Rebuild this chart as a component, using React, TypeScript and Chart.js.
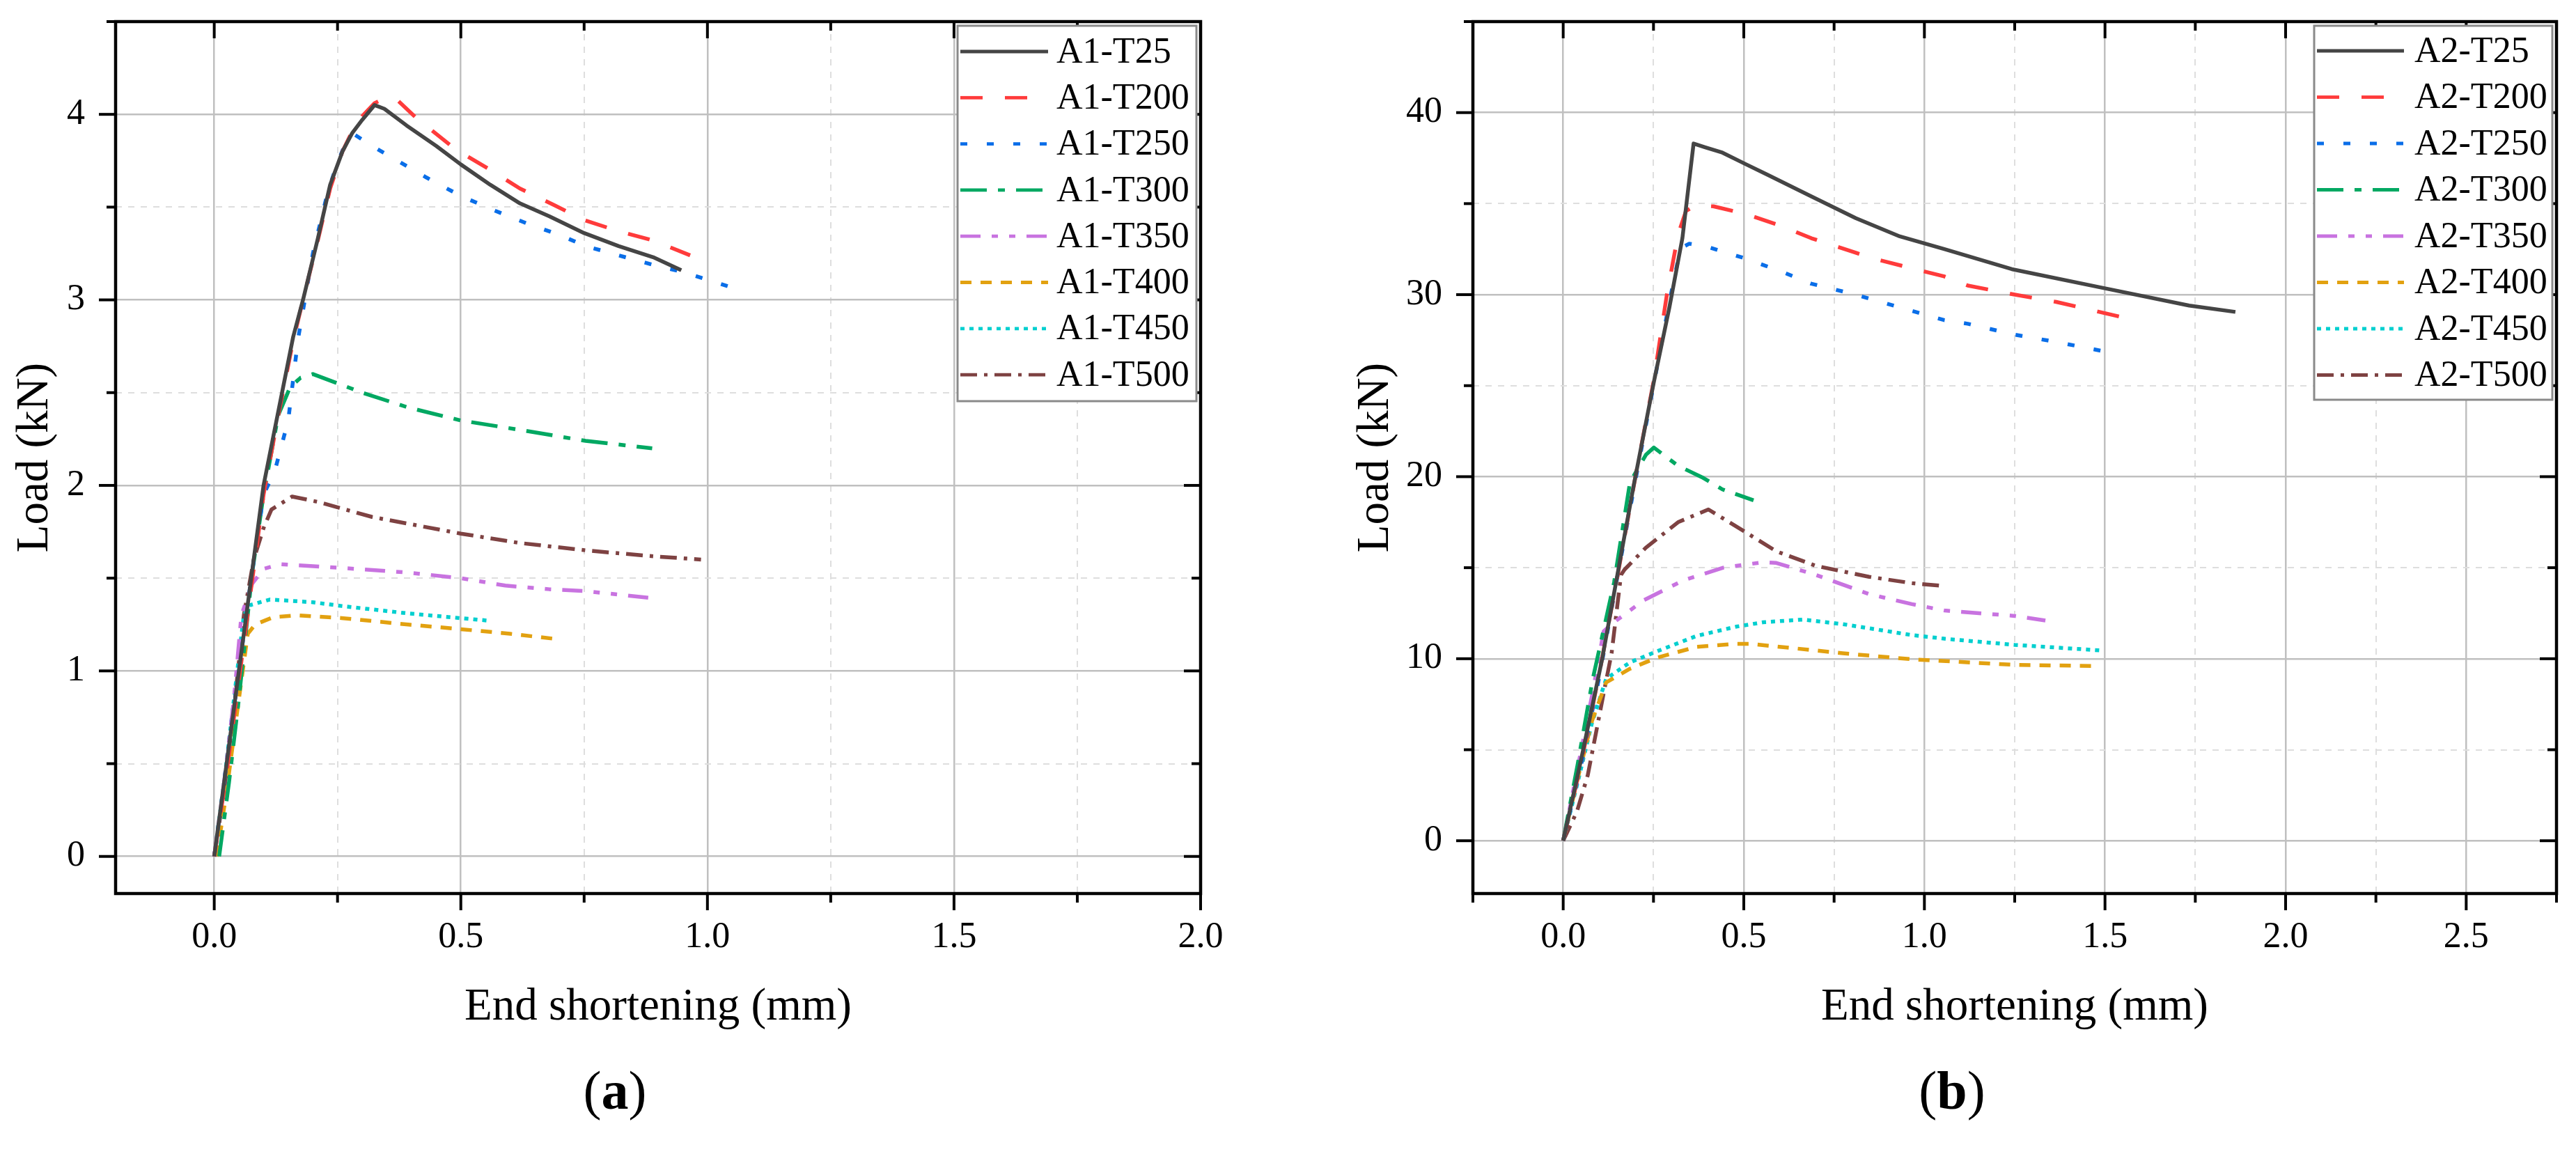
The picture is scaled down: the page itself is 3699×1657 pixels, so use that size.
import React, { useEffect, useRef } from 'react';
import { Chart, registerables } from 'chart.js';

Chart.register(...registerables);

// ---------- panel (a): A1 series ----------
const a1Labels = ['A1-T25', 'A1-T200', 'A1-T250', 'A1-T300', 'A1-T350', 'A1-T400', 'A1-T450', 'A1-T500'];

const a1t25X = [0, 0.025, 0.05, 0.075, 0.1, 0.13, 0.16, 0.18, 0.21, 0.235, 0.26, 0.28, 0.3, 0.325, 0.345, 0.39, 0.45, 0.5, 0.56, 0.62, 0.68, 0.75, 0.82, 0.89, 0.947];
const a1t25Y = [0, 0.5, 1.0, 1.5, 2.0, 2.4, 2.8, 3.0, 3.33, 3.62, 3.8, 3.9, 3.97, 4.05, 4.03, 3.94, 3.83, 3.73, 3.62, 3.52, 3.45, 3.36, 3.29, 3.23, 3.16];

const a1t200X = [0, 0.025, 0.05, 0.075, 0.1, 0.13, 0.16, 0.18, 0.21, 0.235, 0.26, 0.28, 0.3, 0.325, 0.348, 0.37, 0.41, 0.49, 0.56, 0.62, 0.69, 0.75, 0.82, 0.89, 0.965];
const a1t200Y = [0, 0.45, 0.95, 1.45, 1.95, 2.38, 2.78, 3.0, 3.32, 3.6, 3.8, 3.91, 3.99, 4.06, 4.09, 4.08, 3.98, 3.81, 3.7, 3.6, 3.51, 3.43, 3.37, 3.32, 3.24];

const a1t250X = [0, 0.025, 0.05, 0.075, 0.1, 0.123, 0.15, 0.17, 0.2, 0.23, 0.25, 0.267, 0.285, 0.32, 0.365, 0.43, 0.5, 0.57, 0.636, 0.7, 0.753, 0.82, 0.888, 0.95, 1.046];
const a1t250Y = [0, 0.5, 1.0, 1.5, 1.95, 2.08, 2.35, 2.79, 3.25, 3.58, 3.74, 3.85, 3.89, 3.83, 3.76, 3.66, 3.56, 3.48, 3.41, 3.35, 3.29, 3.24, 3.19, 3.15, 3.07];

const a1t300X = [0.01, 0.03, 0.05, 0.077, 0.1, 0.13, 0.154, 0.175, 0.2, 0.23, 0.3, 0.393, 0.5, 0.618, 0.753, 0.888];
const a1t300Y = [0, 0.4, 0.85, 1.53, 1.95, 2.38, 2.53, 2.58, 2.6, 2.57, 2.5, 2.42, 2.35, 2.3, 2.24, 2.2];

const a1t350X = [0, 0.02, 0.04, 0.055, 0.077, 0.1, 0.134, 0.258, 0.393, 0.5, 0.59, 0.68, 0.753, 0.897];
const a1t350Y = [0, 0.4, 0.85, 1.3, 1.47, 1.55, 1.575, 1.555, 1.53, 1.5, 1.46, 1.44, 1.43, 1.39];

const a1t400X = [0.005, 0.025, 0.045, 0.068, 0.083, 0.12, 0.168, 0.258, 0.393, 0.5, 0.6, 0.7];
const a1t400Y = [0, 0.35, 0.75, 1.2, 1.25, 1.29, 1.3, 1.285, 1.25, 1.225, 1.2, 1.17];

const a1t450X = [0, 0.02, 0.04, 0.06, 0.073, 0.113, 0.2, 0.258, 0.393, 0.56];
const a1t450Y = [0, 0.4, 0.85, 1.3, 1.355, 1.385, 1.37, 1.35, 1.31, 1.27];

const a1t500X = [0, 0.02, 0.04, 0.06, 0.08, 0.1, 0.116, 0.158, 0.212, 0.32, 0.5, 0.618, 0.753, 0.88, 0.987];
const a1t500Y = [0, 0.35, 0.8, 1.3, 1.6, 1.77, 1.87, 1.94, 1.91, 1.83, 1.74, 1.69, 1.65, 1.62, 1.6];

// ---------- panel (b): A2 series ----------
const a2Labels = ['A2-T25', 'A2-T200', 'A2-T250', 'A2-T300', 'A2-T350', 'A2-T400', 'A2-T450', 'A2-T500'];

const a2t25X = [0, 0.05, 0.108, 0.15, 0.195, 0.251, 0.294, 0.33, 0.361, 0.392, 0.441, 0.502, 0.564, 0.687, 0.81, 0.932, 1.055, 1.242, 1.487, 1.733, 1.861];
const a2t25Y = [0, 4.5, 10.0, 14.6, 19.5, 25.2, 29.3, 33.1, 38.3, 38.1, 37.8, 37.2, 36.6, 35.4, 34.2, 33.2, 32.5, 31.4, 30.4, 29.4, 29.05];

const a2t200X = [0, 0.05, 0.1, 0.15, 0.2, 0.25, 0.287, 0.318, 0.34, 0.367, 0.416, 0.502, 0.6, 0.687, 0.81, 0.875, 1.055, 1.12, 1.25, 1.365, 1.583];
const a2t200Y = [0, 4.3, 9.2, 14.5, 20.0, 25.2, 30.0, 33.3, 34.6, 34.9, 34.85, 34.45, 33.8, 33.1, 32.3, 31.9, 31.0, 30.5, 30.0, 29.6, 28.6];

const a2t250X = [0, 0.05, 0.1, 0.15, 0.2, 0.25, 0.294, 0.318, 0.33, 0.349, 0.404, 0.502, 0.6, 0.687, 0.81, 0.932, 1.055, 1.12, 1.25, 1.365, 1.494];
const a2t250Y = [0, 4.2, 9.0, 14.5, 19.8, 25.0, 29.6, 31.9, 32.6, 32.8, 32.6, 32.0, 31.3, 30.6, 30.0, 29.3, 28.6, 28.4, 27.8, 27.4, 26.9];

const a2t300X = [0, 0.04, 0.082, 0.141, 0.185, 0.229, 0.251, 0.318, 0.384, 0.441, 0.527];
const a2t300Y = [0, 4.2, 8.9, 14.2, 19.7, 21.2, 21.6, 20.6, 19.97, 19.3, 18.7];

const a2t350X = [0, 0.04, 0.08, 0.112, 0.134, 0.222, 0.332, 0.443, 0.553, 0.59, 0.7, 0.847, 0.965, 1.055, 1.25, 1.335];
const a2t350Y = [0, 4.0, 8.0, 11.5, 11.9, 13.2, 14.3, 15.0, 15.3, 15.26, 14.6, 13.55, 13.0, 12.65, 12.35, 12.1];

const a2t400X = [0, 0.04, 0.08, 0.119, 0.185, 0.259, 0.369, 0.479, 0.516, 0.626, 0.774, 0.965, 1.25, 1.469];
const a2t400Y = [0, 3.4, 6.6, 8.7, 9.45, 10.05, 10.65, 10.82, 10.82, 10.6, 10.3, 9.97, 9.66, 9.6];

const a2t450X = [0, 0.04, 0.08, 0.119, 0.185, 0.259, 0.369, 0.479, 0.553, 0.663, 0.774, 0.965, 1.055, 1.25, 1.484];
const a2t450Y = [0, 3.2, 6.5, 8.9, 9.8, 10.4, 11.25, 11.76, 12.0, 12.15, 11.9, 11.3, 11.1, 10.76, 10.46];

const a2t500X = [0, 0.038, 0.068, 0.112, 0.134, 0.16, 0.17, 0.229, 0.318, 0.402, 0.501, 0.59, 0.7, 0.847, 0.965, 1.049];
const a2t500Y = [0, 1.6, 3.6, 8.1, 10.3, 14.6, 14.9, 16.1, 17.5, 18.2, 17.0, 15.9, 15.1, 14.5, 14.15, 14.0];

// ---------- axis ticks ----------
const xMajorA = [0, 0.5, 1.0, 1.5, 2.0];
const yMajorA = [0, 1, 2, 3, 4];
const xMajorB = [0, 0.5, 1.0, 1.5, 2.0, 2.5];
const yMajorB = [0, 10, 20, 30, 40];

// line styles, same order for both panels
const seriesColors = ['#454545', '#ff3b3b', '#0a6ee8', '#00a862', '#c873e0', '#e2a110', '#00cfcf', '#7e4242'];
const seriesDashes = [[], [32, 32], [10, 28], [38, 16, 10, 16], [29, 16, 9, 16, 9, 16], [16, 13], [6, 7], [24, 10, 5, 10]];

const FONT = '"Liberation Serif", "Times New Roman", serif';
Chart.defaults.font.family = FONT;
Chart.defaults.color = '#000';

const isMajor = (v: number, majors: number[]) => majors.some((m) => Math.abs(m - v) < 1e-6);

// majors plus the half-step minors, clipped to [min, max]
function tickValues(majors: number[], min: number, max: number) {
  const half = (majors[1] - majors[0]) / 2;
  const first = majors[0] - Math.floor((majors[0] - min) / half + 1e-9) * half;
  const out: number[] = [];
  for (let v = first; v <= max + 1e-9; v += half) out.push(Math.round(v * 1e6) / 1e6);
  return out;
}

interface Panel {
  labels: string[];
  xs: number[][];
  ys: number[][];
  xMin: number; xMax: number; yMin: number; yMax: number;
  xMajor: number[]; yMajor: number[];
  width: number; height: number;
  padRight: number; yWidth: number; yTitlePad: number;
  legend: { x0: number; y0: number; x1: number; y1: number; s0: number; s1: number; tx: number; row0: number; step: number };
}

const panelA: Panel = {
  labels: a1Labels,
  xs: [a1t25X, a1t200X, a1t250X, a1t300X, a1t350X, a1t400X, a1t450X, a1t500X],
  ys: [a1t25Y, a1t200Y, a1t250Y, a1t300Y, a1t350Y, a1t400Y, a1t450Y, a1t500Y],
  xMin: -0.2, xMax: 2.0, yMin: -0.2, yMax: 4.5,
  xMajor: xMajorA, yMajor: yMajorA,
  width: 1850, height: 1500,
  padRight: 126, yWidth: 166, yTitlePad: 12,
  legend: { x0: 1375, y0: 37, x1: 1718, y1: 576, s0: 1379, s1: 1505, tx: 1517, row0: 74, step: 66.3 },
};

const panelB: Panel = {
  labels: a2Labels,
  xs: [a2t25X, a2t200X, a2t250X, a2t300X, a2t350X, a2t400X, a2t450X, a2t500X],
  ys: [a2t25Y, a2t200Y, a2t250Y, a2t300Y, a2t350Y, a2t400Y, a2t450Y, a2t500Y],
  xMin: -0.25, xMax: 2.75, yMin: -2.9, yMax: 45,
  xMajor: xMajorB, yMajor: yMajorB,
  width: 1849, height: 1500,
  padRight: 28, yWidth: 265, yTitlePad: 87,
  legend: { x0: 1473, y0: 37, x1: 1815, y1: 574, s0: 1477, s1: 1602, tx: 1617, row0: 73, step: 66.5 },
};

// frame, Origin-style ticks on all four sides, boxed legend
function makeFramePlugin(p: Panel) {
  return {
    id: 'frame',
    afterDraw(chart: any) {
      const { ctx, chartArea } = chart;
      const { left, right, top, bottom } = chartArea;
      const xs = chart.scales.x;
      const ys = chart.scales.y;
      ctx.save();
      ctx.strokeStyle = '#000';
      ctx.lineWidth = 4;
      ctx.setLineDash([]);
      const seg = (x0: number, y0: number, x1: number, y1: number) => {
        ctx.beginPath(); ctx.moveTo(x0, y0); ctx.lineTo(x1, y1); ctx.stroke();
      };
      xs.ticks.forEach((t: any) => {
        const px = xs.getPixelForValue(t.value);
        const len = isMajor(t.value, p.xMajor) ? 24 : 13;
        seg(px, bottom, px, bottom + len);
        seg(px, top, px, top + len);
      });
      ys.ticks.forEach((t: any) => {
        const py = ys.getPixelForValue(t.value);
        const len = isMajor(t.value, p.yMajor) ? 24 : 13;
        seg(left - len, py, left, py);
        seg(right - len, py, right, py);
      });

      // legend
      const L = p.legend;
      ctx.fillStyle = '#fff';
      ctx.fillRect(L.x0, L.y0, L.x1 - L.x0, L.y1 - L.y0);
      ctx.strokeStyle = '#8a8a8a';
      ctx.lineWidth = 3;
      ctx.strokeRect(L.x0, L.y0, L.x1 - L.x0, L.y1 - L.y0);
      ctx.font = `52px ${FONT}`;
      ctx.textBaseline = 'middle';
      ctx.textAlign = 'left';
      chart.data.datasets.forEach((ds: any, i: number) => {
        const cy = L.row0 + i * L.step;
        ctx.strokeStyle = ds.borderColor;
        ctx.lineWidth = 4.8;
        ctx.setLineDash(ds.borderDash || []);
        seg(L.s0, cy, L.s1, cy);
        ctx.setLineDash([]);
        ctx.fillStyle = '#000';
        ctx.fillText(ds.label, L.tx, cy + 2);
      });

      ctx.strokeStyle = '#000';
      ctx.lineWidth = 4.5;
      ctx.strokeRect(left, top, right - left, bottom - top);
      ctx.restore();
    },
  };
}

function buildConfig(p: Panel): any {
  const xTicks = tickValues(p.xMajor, p.xMin, p.xMax);
  const yTicks = tickValues(p.yMajor, p.yMin, p.yMax);
  const gridColor = (majors: number[]) => (c: any) =>
    c.tick && isMajor(c.tick.value, majors) ? '#c0c0c0' : '#dedede';
  const gridWidth = (majors: number[]) => (c: any) =>
    c.tick && isMajor(c.tick.value, majors) ? 2.5 : 2;
  const gridDash = (majors: number[]) => (c: any) =>
    !c.tick || isMajor(c.tick.value, majors) ? [] : [9, 9];

  return {
    type: 'line',
    data: {
      datasets: p.labels.map((label, i) => ({
        label,
        data: p.xs[i].map((x, j) => ({ x, y: p.ys[i][j] })),
        borderColor: seriesColors[i],
        borderDash: seriesDashes[i],
        borderWidth: 5.5,
        borderCapStyle: 'butt',
        borderJoinStyle: 'round',
        pointRadius: 0,
        tension: 0,
        fill: false,
      })),
    },
    options: {
      animation: false,
      responsive: false,
      events: [],
      layout: { padding: { left: 0, top: 31, right: p.padRight, bottom: 0 } },
      plugins: { legend: { display: false }, tooltip: { enabled: false } },
      scales: {
        x: {
          type: 'linear',
          min: p.xMin,
          max: p.xMax,
          afterBuildTicks: (s: any) => { s.ticks = xTicks.map((value) => ({ value })); },
          afterFit: (s: any) => {
            s.height = p.height - 1283;
            s.paddingLeft = 0; s.paddingRight = 0; s.paddingTop = 0; s.paddingBottom = 0;
          },
          ticks: {
            autoSkip: false,
            maxRotation: 0,
            minRotation: 0,
            padding: 32,
            font: { size: 52 },
            color: '#000',
            callback: (v: number) => (isMajor(v, p.xMajor) ? v.toFixed(1) : ''),
          },
          grid: { drawTicks: false, color: gridColor(p.xMajor), lineWidth: gridWidth(p.xMajor) },
          border: { display: false, dash: gridDash(p.xMajor) },
          title: {
            display: true,
            text: 'End shortening (mm)',
            font: { size: 65 },
            color: '#000',
            padding: { top: 0, bottom: 14 },
          },
        },
        y: {
          type: 'linear',
          min: p.yMin,
          max: p.yMax,
          afterBuildTicks: (s: any) => { s.ticks = yTicks.map((value) => ({ value })); },
          afterFit: (s: any) => {
            s.width = p.yWidth;
            s.paddingLeft = 0; s.paddingRight = 0; s.paddingTop = 0; s.paddingBottom = 0;
          },
          ticks: {
            autoSkip: false,
            padding: 44,
            font: { size: 52 },
            color: '#000',
            callback: (v: number) => (isMajor(v, p.yMajor) ? String(Math.round(v)) : ''),
          },
          grid: { drawTicks: false, color: gridColor(p.yMajor), lineWidth: gridWidth(p.yMajor) },
          border: { display: false, dash: gridDash(p.yMajor) },
          title: {
            display: true,
            text: 'Load (kN)',
            font: { size: 65 },
            color: '#000',
            padding: { top: p.yTitlePad, bottom: 0 },
          },
        },
      },
    },
    plugins: [makeFramePlugin(p)],
  };
}

const PanelChart: React.FC<{ panel: Panel; left: number }> = ({ panel, left }) => {
  const canvasRef = useRef<HTMLCanvasElement>(null);

  useEffect(() => {
    if (!canvasRef.current) return;
    const chart = new Chart(canvasRef.current, buildConfig(panel));
    return () => chart.destroy();
  }, [panel]);

  return (
    <div style={{ position: 'absolute', left, top: 0, width: panel.width, height: panel.height }}>
      <canvas ref={canvasRef} width={panel.width} height={panel.height} />
    </div>
  );
};

const captionStyle: React.CSSProperties = {
  position: 'absolute',
  top: 1527,
  width: 300,
  textAlign: 'center',
  fontFamily: FONT,
  fontSize: 78,
  lineHeight: 1,
  color: '#000',
};

export default function App() {
  return (
    <div style={{ position: 'fixed', left: 0, top: 0, width: 3699, height: 1657, background: '#fff', overflow: 'hidden' }}>
      <PanelChart panel={panelA} left={0} />
      <PanelChart panel={panelB} left={1850} />
      <div style={{ ...captionStyle, left: 883 - 150 }}>(<b>a</b>)</div>
      <div style={{ ...captionStyle, left: 2803 - 150 }}>(<b>b</b>)</div>
    </div>
  );
}
